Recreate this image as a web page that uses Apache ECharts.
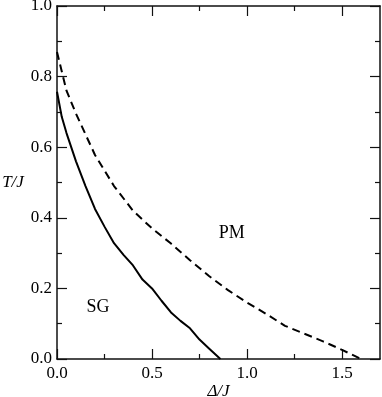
<!DOCTYPE html>
<html>
<head>
<meta charset="utf-8">
<script src="https://cdn.jsdelivr.net/npm/echarts@6/dist/echarts.min.js"></script>
<style>
  html, body { margin: 0; padding: 0; background: #fff; }
  #main { width: 382px; height: 397px; }
</style>
</head>
<body>
<div id="main"></div>
<script>
// phase boundaries
var pmDelta = [0, 0.05, 0.1, 0.2, 0.3, 0.4, 0.5, 0.6, 0.7, 0.8, 0.9, 1.0, 1.1, 1.2, 1.3, 1.4, 1.5, 1.6];
var pmT = [0.87, 0.76, 0.695, 0.578, 0.49, 0.42, 0.37, 0.327, 0.28, 0.235, 0.195, 0.16, 0.128, 0.094, 0.072, 0.05, 0.026, 0.0];

var sgDelta = [0, 0.025, 0.05, 0.1, 0.15, 0.2, 0.25, 0.3, 0.35, 0.4, 0.45, 0.5, 0.55, 0.6, 0.65, 0.7, 0.75, 0.8, 0.86];
var sgT = [0.757, 0.686, 0.64, 0.56, 0.49, 0.425, 0.375, 0.328, 0.295, 0.265, 0.225, 0.2, 0.165, 0.132, 0.108, 0.087, 0.055, 0.03, 0.0];

var xMajor = [0, 0.5, 1.0, 1.5];
var xMinor = [0.25, 0.75, 1.25];
var yMajor = [0, 0.2, 0.4, 0.6, 0.8, 1.0];
var yMinor = [0.1, 0.3, 0.5, 0.7, 0.9];

var regionLabels = [
  { name: 'PM', value: [0.92, 0.357] },
  { name: 'SG', value: [0.216, 0.147] }
];

var font = 'Liberation Serif';
var lineCol = '#111';
var gridBox = { left: 57, right: 2, top: 6, bottom: 38, containLabel: false, outerBoundsMode: 'none' };

function pair(xs, ys) {
  return xs.map(function (x, i) { return [x, ys[i]]; });
}

function xAx(grid, pos, ticks, len, labels, line) {
  return {
    type: 'value', gridIndex: grid, position: pos, min: 0, max: 1.7, interval: 0.5,
    splitLine: { show: false },
    axisLine: { show: line, onZero: false, lineStyle: { color: lineCol, width: 1.5 } },
    axisTick: { show: true, inside: true, length: len, customValues: ticks,
      lineStyle: { color: lineCol, width: 1.2 } },
    axisLabel: { show: labels, customValues: xMajor, margin: 6,
      fontFamily: font, fontSize: 17, color: '#000',
      formatter: function (v) { return v.toFixed(1); } }
  };
}

function yAx(grid, pos, ticks, len, labels, line) {
  return {
    type: 'value', gridIndex: grid, position: pos, min: 0, max: 1.0, interval: 0.2,
    splitLine: { show: false },
    axisLine: { show: line, onZero: false, lineStyle: { color: lineCol, width: 1.5 } },
    axisTick: { show: true, inside: true, length: len, customValues: ticks,
      lineStyle: { color: lineCol, width: 1.2 } },
    axisLabel: { show: labels, customValues: yMajor, margin: 5,
      fontFamily: font, fontSize: 17, color: '#000',
      formatter: function (v) { return v.toFixed(1); } }
  };
}

var chart = echarts.init(document.getElementById('main'));

var xBottom = xAx(0, 'bottom', xMajor, 10, true, true);
xBottom.name = 'Δ/J';
xBottom.nameLocation = 'middle';
xBottom.nameGap = 24;
xBottom.nameMoveOverlap = false;
xBottom.nameTextStyle = { fontFamily: font, fontStyle: 'italic', fontSize: 17, color: '#000', verticalAlign: 'top' };

var yLeft = yAx(0, 'left', yMajor, 10, true, true);
yLeft.name = 'T/J';
yLeft.nameLocation = 'middle';
yLeft.nameRotate = 0;
yLeft.nameGap = 44;
yLeft.nameMoveOverlap = false;
yLeft.nameTextStyle = { fontFamily: font, fontStyle: 'italic', fontSize: 17, color: '#000', align: 'center' };

chart.setOption({
  animation: false,
  backgroundColor: '#fff',
  // grid 1 sits exactly on grid 0 and only carries the minor ticks
  grid: [gridBox, gridBox],
  xAxis: [
    xBottom,
    xAx(0, 'top', xMajor, 10, false, true),
    xAx(1, 'bottom', xMinor, 5, false, false),
    xAx(1, 'top', xMinor, 5, false, false)
  ],
  yAxis: [
    yLeft,
    yAx(0, 'right', yMajor, 10, false, true),
    yAx(1, 'left', yMinor, 5, false, false),
    yAx(1, 'right', yMinor, 5, false, false)
  ],
  series: [
    {
      type: 'line', xAxisIndex: 0, yAxisIndex: 0, showSymbol: false, smooth: false,
      data: pair(pmDelta, pmT),
      lineStyle: { color: '#000', width: 2, type: [8, 5] }
    },
    {
      type: 'line', xAxisIndex: 0, yAxisIndex: 0, showSymbol: false, smooth: false,
      data: pair(sgDelta, sgT),
      lineStyle: { color: '#000', width: 2 }
    },
    {
      type: 'scatter', xAxisIndex: 0, yAxisIndex: 0, symbolSize: 0,
      data: regionLabels,
      itemStyle: { opacity: 1 },
      label: { show: true, position: 'inside', formatter: '{b}', opacity: 1,
        fontFamily: font, fontSize: 18, color: '#000' }
    }
  ]
});
</script>
</body>
</html>
